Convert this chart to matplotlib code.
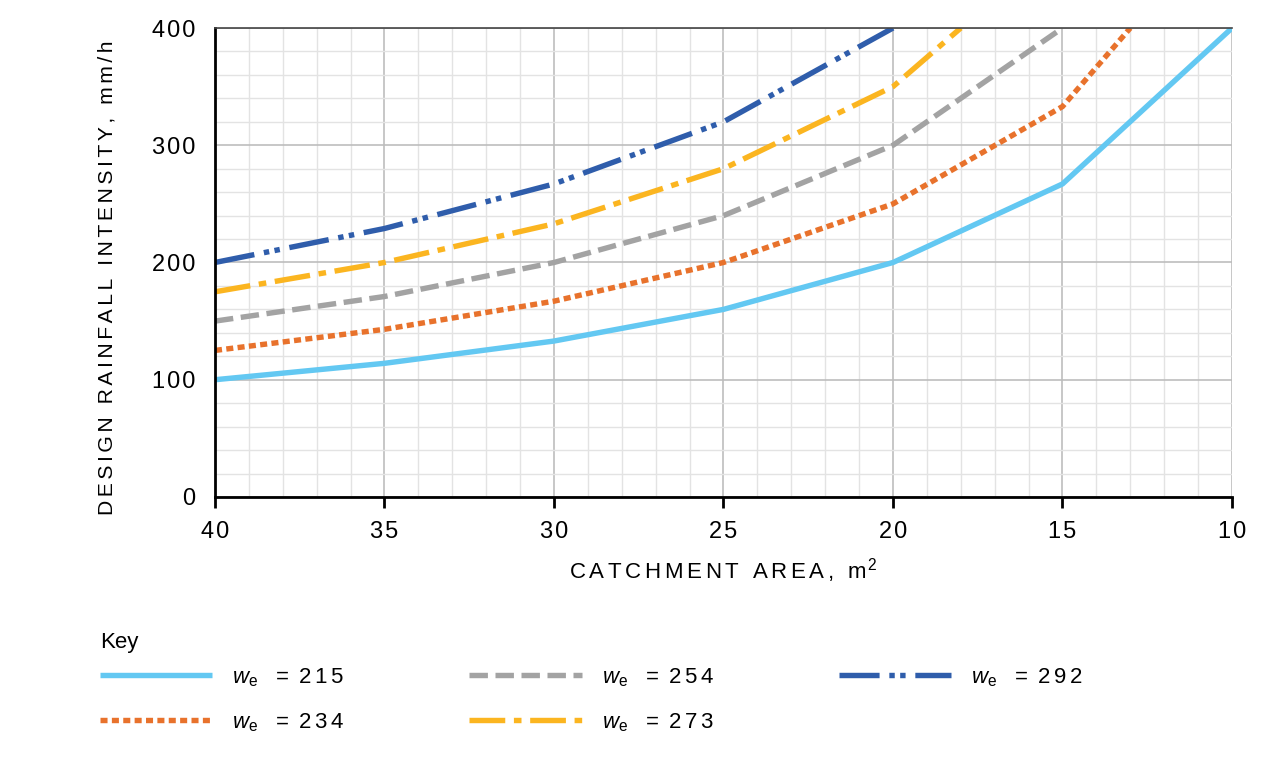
import numpy as np
import matplotlib
matplotlib.use('Agg')
import matplotlib.pyplot as plt
from matplotlib.ticker import MultipleLocator

plt.rcParams['font.family'] = ['Liberation Sans', 'DejaVu Sans']
plt.rcParams['mathtext.fontset'] = 'custom'
plt.rcParams['mathtext.rm'] = 'Liberation Sans'
plt.rcParams['mathtext.it'] = 'Liberation Sans:italic'

# catchment area (m2) and design rainfall intensity (mm/h) for each w_e
area_215 = [40, 35, 30, 25, 20, 15, 10]
rain_215 = [100, 114, 133, 160, 200, 267, 400]
area_234 = [40, 35, 30, 25, 20, 15, 13]
rain_234 = [125, 143, 167, 200, 250, 333, 400]
area_254 = [40, 35, 30, 25, 20, 15]
rain_254 = [150, 171, 200, 240, 300, 400]
area_273 = [40, 35, 30, 25, 20, 18]
rain_273 = [175, 200, 233, 280, 350, 400]
area_292 = [40, 35, 30, 25, 20]
rain_292 = [200, 229, 267, 320, 400]

labels = ['215', '234', '254', '273', '292']
xticks = [40, 35, 30, 25, 20, 15, 10]
yticks = [0, 100, 200, 300, 400]

HS = '\u200a'  # hair space, for the wide letter spacing of the original

def spaced(s, n=1):
    return (HS * n).join(s)

def key_label(v):
    return r'$w_{\rm e}$' + '\u2002' + HS * 4 + '=' + HS * 5 + spaced(v, 2)

fig = plt.figure(figsize=(12.61, 7.57), dpi=100)
ax = fig.add_axes([0.1705, 0.3435, 0.8065, 0.6195])

lw = 3.9
ax.plot(area_215, rain_215, color='#63C8F2', lw=lw, solid_capstyle='butt',
        label=key_label(labels[0]))
ax.plot(area_234, rain_234, color='#E8722C', lw=lw, dashes=(1.3, 0.8),
        label=key_label(labels[1]))
ax.plot(area_254, rain_254, color='#A3A3A3', lw=lw, dashes=(3.4, 1.4),
        label=key_label(labels[2]))
ax.plot(area_273, rain_273, color='#FBB520', lw=lw, dashes=(6.6, 1.6, 1.4, 1.6),
        label=key_label(labels[3]))
ax.plot(area_292, rain_292, color='#2F5DAB', lw=lw,
        dashes=(7.4, 1.8, 1.0, 1.0, 1.0, 1.8),
        label=key_label(labels[4]))

ax.set_xlim(40, 10)
ax.set_ylim(0, 400)
ax.set_xticks(xticks, [spaced(str(t)) for t in xticks])
ax.set_yticks(yticks, [spaced(str(t)) for t in yticks])
ax.xaxis.set_minor_locator(MultipleLocator(1))
ax.yaxis.set_minor_locator(MultipleLocator(20))
ax.grid(which='major', color='#BDBDBD', lw=1.2)
ax.grid(which='minor', color='#E3E3E3', lw=1.0)
ax.set_axisbelow(True)

ax.spines['right'].set_visible(False)
ax.spines['top'].set_color('#444444')
ax.spines['top'].set_linewidth(1.2)
ax.spines['left'].set_linewidth(2)
ax.spines['bottom'].set_linewidth(2)

ax.tick_params(axis='x', which='major', length=8, width=2, direction='out',
               labelsize=17, pad=9)
ax.tick_params(axis='y', which='major', length=0, labelsize=17, pad=14)
ax.tick_params(which='minor', length=0)

ax.set_xlabel(spaced('CATCHMENT AREA, m', 2) + HS + r'$^{2}$', fontsize=16, labelpad=10)
ax.set_ylabel(spaced('DESIGN RAINFALL INTENSITY, mm/h', 2), fontsize=15.2)
ax.yaxis.set_label_coords(-0.097, 0.468)

fig.text(0.0793, 0.144, 'Key', fontsize=16, va='baseline')
leg = fig.legend(loc='upper left', bbox_to_anchor=(0.0793, 0.12), ncol=3,
                 frameon=False, fontsize=16, handlelength=5.05, borderpad=0,
                 borderaxespad=0, columnspacing=5.63, handletextpad=0.9,
                 labelspacing=1.0)

plt.savefig('out.png', dpi=100)
